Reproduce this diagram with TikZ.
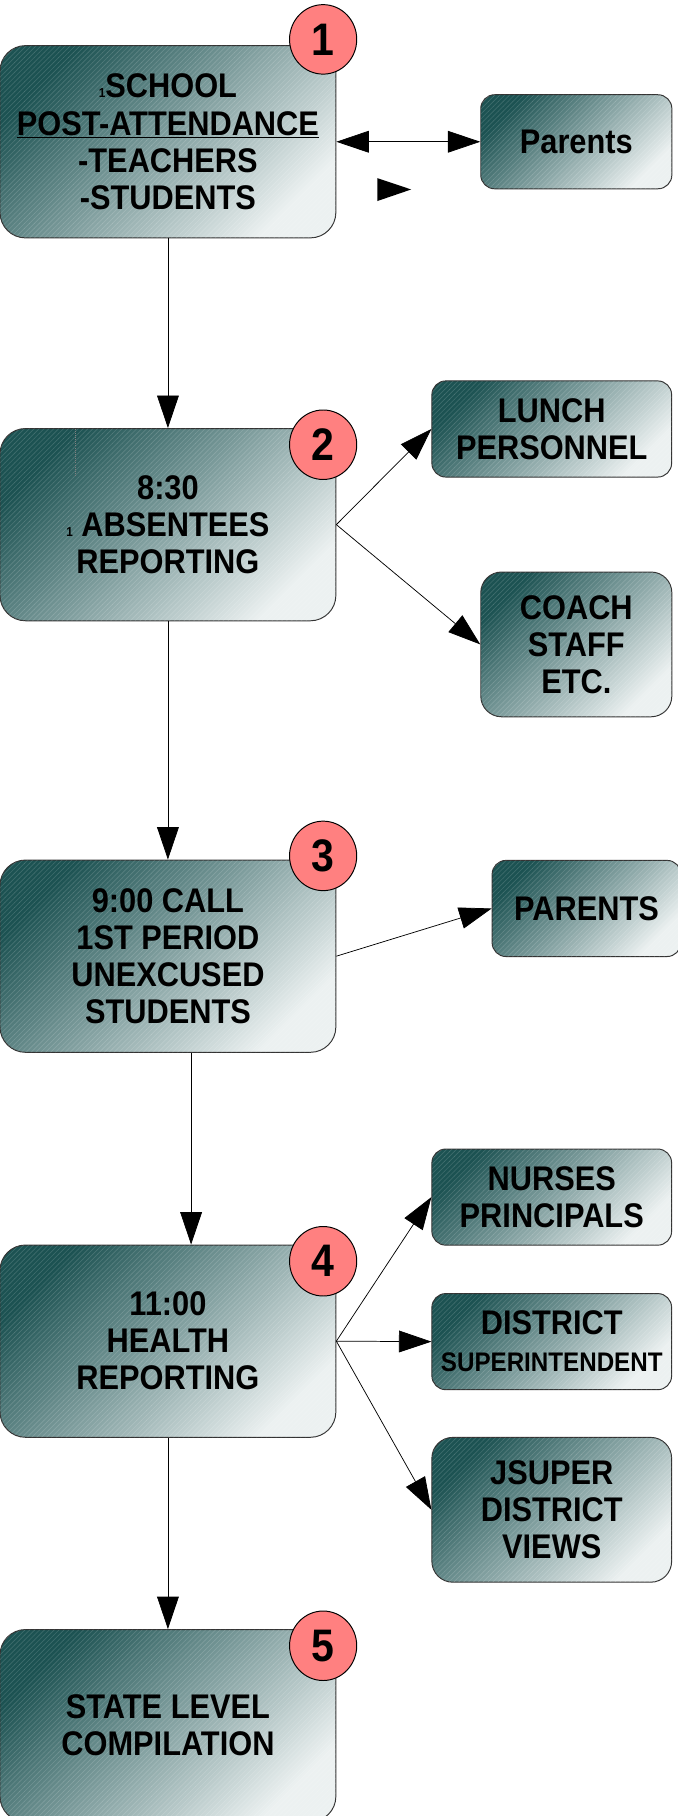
\documentclass[tikz,border=0pt]{standalone}
\usepackage{fontspec}
\setmainfont{Liberation Sans}[FakeStretch=0.9]
\usetikzlibrary{arrows.meta,shapes.geometric,patterns}
\definecolor{tealdark}{RGB}{28,82,82}
\definecolor{tealmid}{RGB}{108,146,144}
\definecolor{teallight}{RGB}{236,241,241}
\definecolor{badgered}{RGB}{255,128,128}
\newcommand\tinyone{{\fontsize{8}{8}\selectfont 1}}
\tikzset{
	box/.style={draw=black!80, line width=0.6pt, top color=tealdark, middle color=tealmid, bottom color=teallight, shading angle=45, align=center, inner sep=0pt, font=\fontsize{21}{22.75}\selectfont\bfseries, postaction={pattern=north east lines, pattern color=white, opacity=0.15}},
	stage/.style={box, rounded corners=0.55cm, minimum width=7.25cm, minimum height=4.15cm},
	target/.style={box, rounded corners=0.3cm, minimum width=5.175cm, minimum height=2.075cm},
	badge/.style={ellipse, draw=black, line width=0.6pt, fill=badgered, minimum width=1.45cm, minimum height=1.5cm, inner sep=0pt, font=\fontsize{28}{28}\selectfont\bfseries},
	flow/.style={draw=black, line width=0.45pt, -{Triangle[length=0.7cm,width=0.47cm]}},
	twoway/.style={flow, {Triangle[length=0.7cm,width=0.47cm]}-{Triangle[length=0.7cm,width=0.47cm]}}
}
\begin{document}
\begin{tikzpicture}
			\useasboundingbox (0,0) rectangle (14.625,-39.2);
			\node[stage] (s1) at (3.625,-3.06) {\tinyone SCHOOL\\\underline{POST-ATTENDANCE}\\-TEACHERS\\-STUDENTS};
			\node[stage] (s2) at (3.625,-11.325) {8:30\\\tinyone\ ABSENTEES\\REPORTING};
			\node[stage] (s3) at (3.625,-20.64) {9:00 CALL\\1ST PERIOD\\UNEXCUSED\\STUDENTS};
			\node[stage] (s4) at (3.625,-28.95) {11:00\\HEALTH\\REPORTING};
			\node[stage] (s5) at (3.625,-37.25) {STATE LEVEL\\COMPILATION};
			\node[target, minimum width=4.125cm, minimum height=2.03cm] (par1) at (12.44,-3.06) {Parents};
			\node[target] (lunch) at (11.91,-9.26) {LUNCH\\PERSONNEL};
			\node[target, minimum width=4.125cm, minimum height=3.125cm, rounded corners=0.45cm] (coach) at (12.44,-13.91) {COACH\\STAFF\\ETC.};
			\node[target, minimum width=4.075cm] (par3) at (12.66,-19.61) {PARENTS};
			\node[target] (nurse) at (11.91,-25.84) {NURSES\\PRINCIPALS};
			\node[target] (dist) at (11.91,-28.96) {DISTRICT\\{\fontsize{16.5}{17}\selectfont SUPERINTENDENT}};
			\node[target, minimum height=3.125cm, rounded corners=0.45cm] (jsup) at (11.91,-32.59) {JSUPER\\DISTRICT\\VIEWS};
			\node[badge] (b1) at (6.975,-0.85) {1};
			\node[badge] (b2) at (6.975,-9.6) {2};
			\node[badge] (b3) at (6.975,-18.475) {3};
			\node[badge] (b4) at (6.975,-27.225) {4};
			\node[badge] (b5) at (6.975,-35.525) {5};
			\draw[twoway] (s1) -- (par1);
			\draw[flow] (s1) -- (s2);
			\draw[flow] (s2.east) -- (lunch.west);
			\draw[flow] (s2.east) -- (coach.west);
			\draw[flow] (s2) -- (s3);
			\draw[flow] (s3.east) -- (par3.west);
			\draw[flow] ([xshift=0.5cm]s3.south) -- ([xshift=0.5cm]s4.north);
			\draw[flow] (s4.east) -- (nurse.west);
			\draw[flow] (s4.east) -- (dist.west);
			\draw[flow] (s4.east) -- (jsup.west);
			\draw[flow] (s4) -- (s5);
			\fill (8.145,-3.845) -- (8.875,-4.09) -- (8.145,-4.34) -- cycle;
			\draw[black!50, line width=0.3pt, densely dotted] (1.625,-9.25) -- (1.625,-10.3);
			\end{tikzpicture}
\end{document}
